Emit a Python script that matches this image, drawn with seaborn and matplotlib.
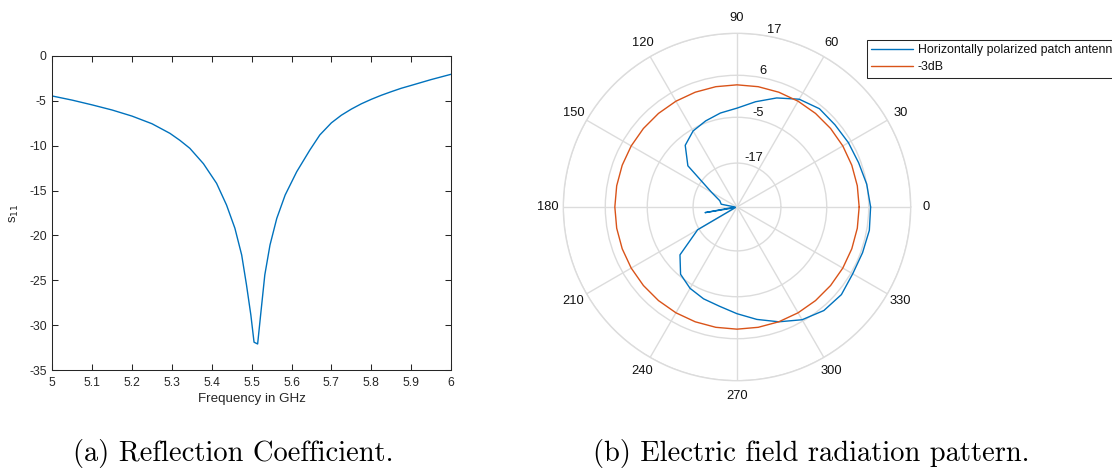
import numpy as np
import matplotlib
matplotlib.use("Agg")
import matplotlib.pyplot as plt
import seaborn as sns

# Reflection coefficient sweep
freq_ghz = [5.00, 5.05, 5.10, 5.15, 5.20, 5.25, 5.295, 5.32, 5.345, 5.379,
            5.412, 5.437, 5.458, 5.475, 5.487, 5.498, 5.506, 5.515, 5.5225,
            5.533, 5.546, 5.563, 5.584, 5.613, 5.646, 5.671, 5.70, 5.725,
            5.75, 5.775, 5.80, 5.825, 5.85, 5.875, 5.90, 5.95, 6.00]
s11_db = [-4.46, -4.92, -5.45, -6.02, -6.70, -7.55, -8.62, -9.4, -10.29,
          -12.0, -14.19, -16.61, -19.2, -22.18, -25.5, -28.87, -31.9, -32.1,
          -28.87, -24.4, -21.07, -18.1, -15.5, -12.9, -10.48, -8.8, -7.45,
          -6.6, -5.92, -5.33, -4.83, -4.38, -3.98, -3.6, -3.28, -2.63, -2.04]
x_ticks = [5.0, 5.1, 5.2, 5.3, 5.4, 5.5, 5.6, 5.7, 5.8, 5.9, 6.0]
x_tick_labels = ["5", "5.1", "5.2", "5.3", "5.4", "5.5", "5.6", "5.7", "5.8", "5.9", "6"]
y_ticks = [-35, -30, -25, -20, -15, -10, -5, 0]

# Measured electric field pattern (dB), 10 degree steps
angle_deg = list(range(0, 361, 10))
pattern_db = [6.5, 6.0, 5.4, 5.2, 5.0, 5.1, 4.1, 1.9, -0.5, -2.6,
              -3.5, -4.5, -5.5, -7.4, -11.7, -20.8, -23.7, -24.3, -28.0, -20.0,
              -28.0, -16.6, -9.0, -5.5, -3.9, -2.9, -2.1, -0.55, 1.4, 3.5,
              5.6, 6.9, 7.2, 6.5, 6.5, 6.7, 6.5]
r_ticks = [-17, -5, 6, 17]
theta_ticks = list(range(0, 360, 30))
legend_labels = ["Horizontally polarized patch antenna", "-3dB"]
captions = ["(a) Reflection Coefficient.", "(b) Electric field radiation pattern."]

sns.set_style("white")
plt.rcParams["font.family"] = ["Liberation Sans", "DejaVu Sans"]

BLUE = "#0072BD"
ORANGE = "#D95319"
INK = "#262626"
GRID = "#dcdcdc"
W, H = 1112, 469

fig = plt.figure(figsize=(W / 100, H / 100), dpi=100)

# ---- (a) S11 vs frequency ----
ax = fig.add_axes([52.3 / W, (H - 370) / H, 398.7 / W, 314 / H])
sns.lineplot(x=freq_ghz, y=s11_db, ax=ax, color=BLUE, linewidth=1.0, sort=False)
ax.set_xlim(5, 6)
ax.set_ylim(-35, 0)
ax.set_xticks(x_ticks)
ax.set_xticklabels(x_tick_labels)
ax.set_yticks(y_ticks)
ax.set_yticklabels([str(v) for v in y_ticks])
ax.tick_params(direction="in", top=True, right=True, bottom=True, left=True,
               length=4, width=0.75, color=INK, labelcolor=INK, labelsize=8.7)
ax.tick_params(axis="x", pad=5)
ax.tick_params(axis="y", pad=4)
for sp in ax.spines.values():
    sp.set_visible(True)
    sp.set_color(INK)
    sp.set_linewidth(0.75)
ax.set_xlabel("Frequency in GHz", fontsize=9.6, color=INK, labelpad=3)
ax.set_ylabel(r"s$_{11}$", fontsize=9.6, color=INK, labelpad=6)

# ---- (b) polar radiation pattern ----
R = 173.7
cx, cy = 737, 207
pax = fig.add_axes([(cx - R) / W, (H - cy - R) / H, 2 * R / W, 2 * R / H],
                   projection="polar")
theta = np.deg2rad(angle_deg)
half_power = [pattern_db[0] - 3] * len(angle_deg)
sns.lineplot(x=theta, y=pattern_db, ax=pax, color=BLUE, linewidth=1.0,
             sort=False, label=legend_labels[0])
sns.lineplot(x=theta, y=half_power, ax=pax, color=ORANGE, linewidth=1.0,
             sort=False, label=legend_labels[1])
pax.set_ylim(-28.5, 17)
pax.set_xlabel("")
pax.set_ylabel("")
pax.set_thetagrids(theta_ticks, labels=[str(t) for t in theta_ticks])
pax.set_rgrids(r_ticks, labels=[str(r) for r in r_ticks], angle=80)
pax.grid(True, color=GRID, linewidth=1.0)
pax.spines["polar"].set_color(GRID)
pax.spines["polar"].set_linewidth(1.0)
pax.tick_params(axis="x", pad=4, labelsize=9.3, labelcolor="#111111", length=0)
pax.tick_params(axis="y", labelsize=9.3, labelcolor="#111111", length=0)

handles, labels = pax.get_legend_handles_labels()
pax.get_legend().remove()
leg = fig.legend(handles, labels, loc="upper left",
                 bbox_to_anchor=(867 / W, (H - 40) / H),
                 bbox_transform=fig.transFigure, frameon=True, fancybox=False,
                 fontsize=8.9, handlelength=3.4, handletextpad=0.35,
                 borderpad=0.35, labelspacing=0.4, borderaxespad=0,
                 framealpha=1)
leg.get_frame().set_edgecolor(INK)
leg.get_frame().set_linewidth(0.75)
for t in leg.get_texts():
    t.set_color("#111111")

# ---- captions ----
fig.text(73 / W, (H - 461) / H, captions[0], family="cmr10", fontsize=20.5,
         ha="left", va="baseline", color="black")
fig.text(593 / W, (H - 461) / H, captions[1], family="cmr10", fontsize=20.5,
         ha="left", va="baseline", color="black")

fig.savefig("out.png", dpi=100)
